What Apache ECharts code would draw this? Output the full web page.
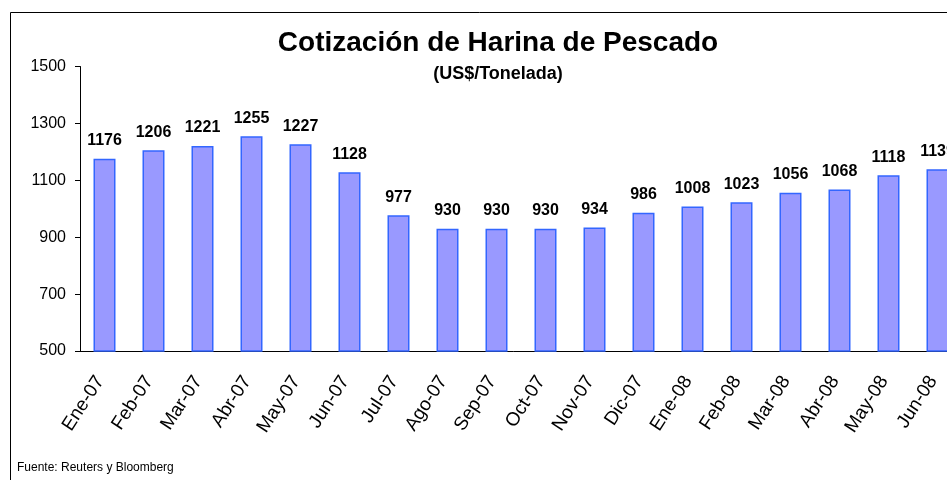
<!DOCTYPE html>
<html>
<head>
<meta charset="utf-8">
<script src="https://cdn.jsdelivr.net/npm/echarts@6/dist/echarts.min.js"></script>
<style>
  html, body { margin: 0; padding: 0; background: #fff; }
  #chart { width: 947px; height: 480px; }
</style>
</head>
<body>
<div id="chart"></div>
<script>
// datos
var meses = ['Ene-07', 'Feb-07', 'Mar-07', 'Abr-07', 'May-07', 'Jun-07', 'Jul-07', 'Ago-07', 'Sep-07',
  'Oct-07', 'Nov-07', 'Dic-07', 'Ene-08', 'Feb-08', 'Mar-08', 'Abr-08', 'May-08', 'Jun-08'];
var precios = [1176, 1206, 1221, 1255, 1227, 1128, 977, 930, 930, 930, 934, 986, 1008, 1023, 1056, 1068, 1118, 1139];

cotizacion()

//Cotización de Harina de Pescado
function cotizacion() {
  var myChart = echarts.init(document.getElementById('chart'));

  var option = {
    animation: false,
    textStyle: {
      fontFamily: 'Liberation Sans, Arial, sans-serif'
    },
    title: {
      text: 'Cotización de Harina de Pescado',
      subtext: '(US$/Tonelada)',
      left: 493,
      textAlign: 'center',
      top: 24,
      itemGap: 8,
      textStyle: {
        fontSize: 28,
        fontWeight: 'bold',
        color: '#000'
      },
      subtextStyle: {
        fontSize: 18,
        fontWeight: 'bold',
        color: '#000'
      }
    },
    graphic: [{
      type: 'rect',
      shape: { x: 10.5, y: 12.5, width: 1000, height: 1000 },
      style: { fill: 'none', stroke: '#000', lineWidth: 1 },
      silent: true
    }, {
      type: 'text',
      left: 17,
      top: 462,
      style: {
        text: 'Fuente: Reuters y Bloomberg',
        font: '12px Liberation Sans, Arial, sans-serif',
        fill: '#000'
      }
    }],
    grid: {
      left: 80,
      right: -15,
      top: 66.5,
      bottom: 129,
      containLabel: false,
      outerBoundsMode: 'none'
    },
    xAxis: {
      type: 'category',
      data: meses,
      axisLine: { lineStyle: { color: '#000', width: 1 } },
      axisTick: { alignWithLabel: false, length: 6, lineStyle: { color: '#000' } },
      axisLabel: {
        rotate: 57,
        margin: 20,
        padding: [0, 8, 0, 0],
        fontSize: 19,
        color: '#000',
        interval: 0
      }
    },
    yAxis: {
      type: 'value',
      min: 500,
      max: 1500,
      interval: 200,
      splitLine: { show: false },
      axisLine: { show: true, lineStyle: { color: '#000', width: 1 } },
      axisTick: { show: true, length: 5, inside: false, lineStyle: { color: '#000' } },
      axisLabel: {
        fontSize: 16,
        color: '#000',
        margin: 14,
        formatter: function (v) { return String(v); }
      }
    },
    series: [{
      name: 'Cotización',
      type: 'bar',
      barWidth: 22,
      data: precios,
      itemStyle: {
        color: '#9999FF',
        borderColor: '#3366FF',
        borderWidth: 1.5
      },
      label: {
        show: true,
        position: 'top',
        distance: 10,
        fontSize: 16,
        fontWeight: 'bold',
        color: '#000'
      }
    }]
  };

  myChart.setOption(option);
}
</script>
</body>
</html>
